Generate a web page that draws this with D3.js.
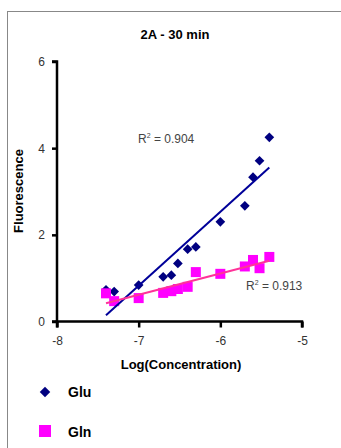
<!doctype html>
<meta charset="utf-8">
<script src="https://d3js.org/d3.v7.min.js"></script>
<style>
body { margin: 0; background: #fff; }
svg text { font-family: "Liberation Sans", Arial, sans-serif; }
</style>
<body/>
<script>

var width = 341;
var height = 448;

// log10 of the concentrations
var logConc = [-7.40, -7.30, -7.00, -6.70, -6.60, -6.52, -6.40, -6.30, -6.00, -5.70, -5.60, -5.52, -5.40];
var glu = [0.73, 0.69, 0.84, 1.03, 1.07, 1.34, 1.67, 1.72, 2.30, 2.67, 3.33, 3.71, 4.25];
var gln = [0.65, 0.47, 0.54, 0.66, 0.70, 0.75, 0.80, 1.14, 1.10, 1.27, 1.42, 1.23, 1.49];
var xTicks = [-8, -7, -6, -5];
var yTicks = [0, 2, 4, 6];
var r2 = ["0.904", "0.913"];

var svg = d3.select("body")
        .append("svg")
        .attr("width", width)
        .attr("height", height);

// chart area frame
svg.append("rect")
        .attr("x", 7.5)
        .attr("y", 11.5)
        .attr("width", 360)
        .attr("height", 460)
        .style("fill", "white")
        .style("stroke", "#888");

var x = d3.scaleLinear().domain([-8, -5]).range([57, 302]);
var y = d3.scaleLinear().domain([0, 6]).range([321.5, 61.5]);

svg.append("text")
        .attr("x", 175)
        .attr("y", 39)
        .attr("text-anchor", "middle")
        .style("font-size", "13px")
        .style("font-weight", "bold")
        .text("2A - 30 min");

var plain = function(d) { return String(d); };

var xAxis = svg.append("g")
        .attr("transform", "translate(0," + y(0) + ")")
        .call(d3.axisBottom(x).tickValues(xTicks).tickSize(6).tickPadding(9).tickFormat(plain));

var yAxis = svg.append("g")
        .attr("transform", "translate(" + x(-8) + ",0)")
        .call(d3.axisLeft(y).tickValues(yTicks).tickSize(5).tickPadding(7).tickFormat(plain));

[xAxis, yAxis].forEach(function(g) {
    g.select(".domain").style("stroke", "black").style("stroke-width", 2.5);
    g.selectAll(".tick line").style("stroke", "black").style("stroke-width", 2.5);
    g.selectAll(".tick text")
            .style("font-size", "12px")
            .style("fill", "#333")
            .style("font-family", "'Liberation Sans', Arial, sans-serif");
});
xAxis.select(".domain").attr("d", "M" + x(-8) + ",6V0H" + x(-5) + "V6");
yAxis.select(".domain").attr("d", "M-5," + y(6) + "H0V" + y(0) + "H-5");

svg.append("text")
        .attr("x", 181)
        .attr("y", 369)
        .attr("text-anchor", "middle")
        .style("font-size", "13px")
        .style("font-weight", "bold")
        .text("Log(Concentration)");

svg.append("text")
        .attr("transform", "translate(23,191) rotate(-90)")
        .attr("text-anchor", "middle")
        .style("font-size", "13px")
        .style("font-weight", "bold")
        .text("Fluorescence");

var diamond = d3.symbol().type(d3.symbolDiamond2).size(60);

svg.append("g").selectAll("path")
        .data(logConc)
        .join("path")
        .attr("transform", function(d, i) { return "translate(" + x(d) + "," + y(glu[i]) + ")"; })
        .attr("d", diamond)
        .style("fill", "#000080");

svg.append("g").selectAll("rect")
        .data(logConc)
        .join("rect")
        .attr("x", function(d) { return x(d) - 5; })
        .attr("y", function(d, i) { return y(gln[i]) - 5; })
        .attr("width", 10)
        .attr("height", 10)
        .style("fill", "#ff00ff");

// least squares trendlines
function fit(xs, ys) {
    var mx = d3.mean(xs), my = d3.mean(ys);
    var sxy = d3.sum(xs, function(v, i) { return (v - mx) * (ys[i] - my); });
    var sxx = d3.sum(xs, function(v) { return (v - mx) * (v - mx); });
    var b = sxy / sxx;
    return function(v) { return my + b * (v - mx); };
}

var ext = d3.extent(logConc);
var line = d3.line().x(function(d) { return x(d[0]); }).y(function(d) { return y(d[1]); });

var fGlu = fit(logConc, glu);
var fGln = fit(logConc, gln);

svg.append("path")
        .attr("d", line(ext.map(function(v) { return [v, fGlu(v)]; })))
        .style("stroke", "#000099")
        .style("stroke-width", 2)
        .style("fill", "none");

svg.append("path")
        .attr("d", line(ext.map(function(v) { return [v, fGln(v)]; })))
        .style("stroke", "#ff3399")
        .style("stroke-width", 2)
        .style("fill", "none");

var r2Text = svg.append("g").style("font-size", "12px").style("fill", "#444");
r2Text.append("text").attr("x", 138).attr("y", 143).html("R<tspan dy='-5' font-size='7'>2</tspan><tspan dy='5'> = " + r2[0] + "</tspan>");
r2Text.append("text").attr("x", 246).attr("y", 290).html("R<tspan dy='-5' font-size='7'>2</tspan><tspan dy='5'> = " + r2[1] + "</tspan>");

// legend
var legend = svg.append("g");
legend.append("path")
        .attr("transform", "translate(45,392)")
        .attr("d", d3.symbol().type(d3.symbolDiamond2).size(70))
        .style("fill", "#000080");
legend.append("rect")
        .attr("x", 39)
        .attr("y", 425)
        .attr("width", 12)
        .attr("height", 12)
        .style("fill", "#ff00ff");
legend.append("text").attr("x", 68).attr("y", 397).style("font-size", "14px").style("font-weight", "bold").text("Glu");
legend.append("text").attr("x", 68).attr("y", 437).style("font-size", "14px").style("font-weight", "bold").text("Gln");

</script>
